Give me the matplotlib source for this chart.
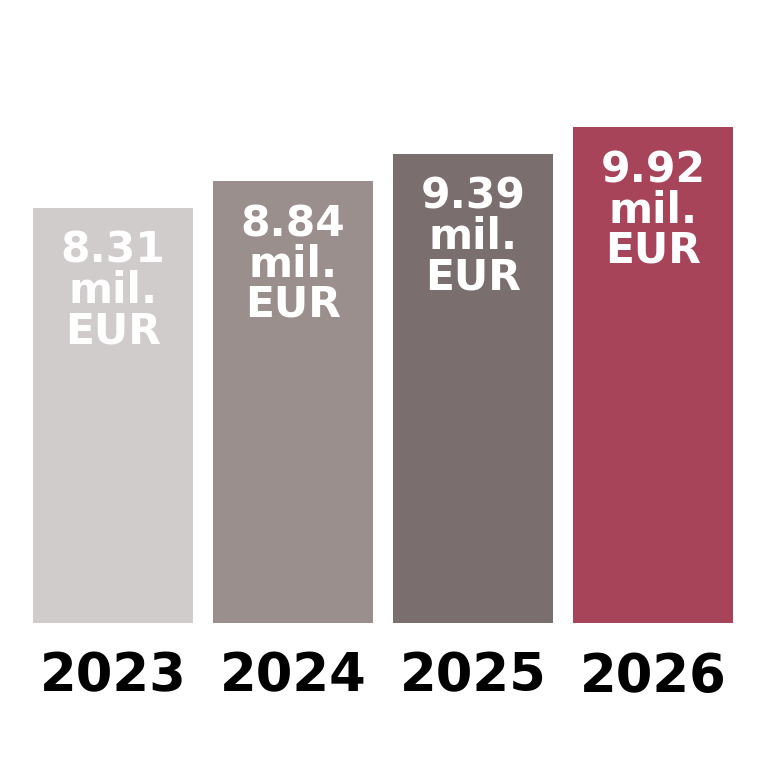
import matplotlib
matplotlib.use("Agg")
import matplotlib.pyplot as plt

years = ["2023", "2024", "2025", "2026"]
values = [8.31, 8.84, 9.39, 9.92]
colors = ["#d0cccb", "#9b8f8e", "#7a6f6e", "#a8445a"]
unit = "mil.\nEUR"

fig = plt.figure(figsize=(7.68, 7.68), dpi=100)
W = H = 768
ax = fig.add_axes([33 / W, (768 - 623) / H, 700 / W, 573 / H])
x = list(range(len(years)))
bars = ax.bar(x, values, width=160 / 180, color=colors)
ax.set_xlim(-0.5 * 160 / 180, len(years) - 1 + 0.5 * 160 / 180)
ax.set_ylim(0, 573 / 50)

for xi, v in zip(x, values):
    ax.annotate(f"{v:.2f}\n{unit}", xy=(xi, v), xytext=(0, -16), textcoords="offset points",
                ha="center", va="top", color="white", fontsize=30.5, fontweight="bold",
                linespacing=0.95)

ax.set_xticks(x)
ax.set_xticklabels(years, fontsize=38, fontweight="bold")
ax.tick_params(axis="x", length=0, pad=20)
ax.set_yticks([])
for s in ax.spines.values():
    s.set_visible(False)

fig.savefig("out.png", dpi=100)
